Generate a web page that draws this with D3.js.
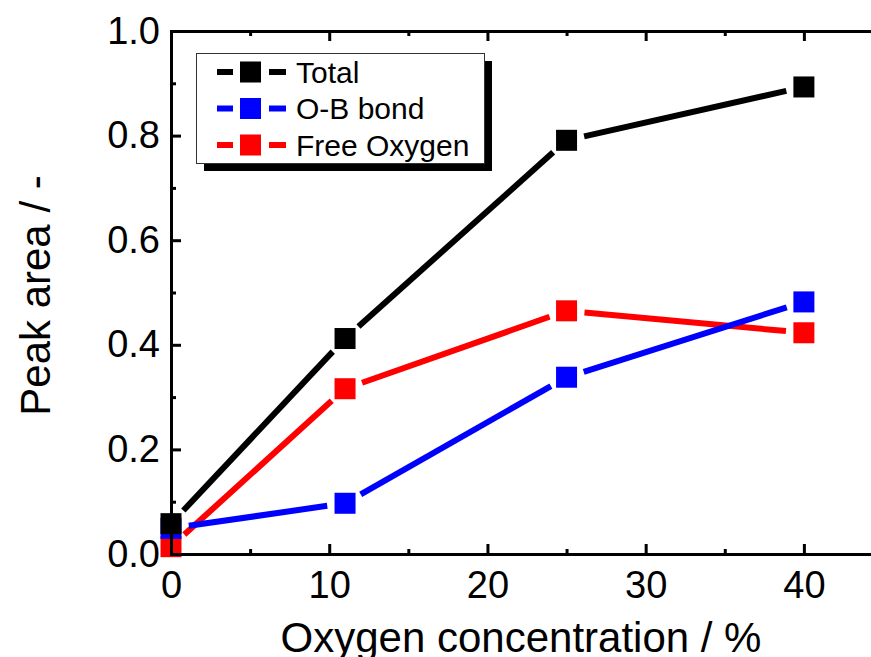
<!DOCTYPE html>
<html>
<head>
<meta charset="utf-8">
<script src="https://cdn.jsdelivr.net/npm/d3@7"></script>
<style>
  body { margin: 0; background: #fff; }
  svg { display: block; font-family: "Liberation Sans", Arial, sans-serif; }
</style>
</head>
<body>
<svg id="graph"></svg>
<script>
// values
let oxygen = [0, 11, 25, 40]
let total = [0.058, 0.412, 0.791, 0.893]
let obBond = [0.049, 0.097, 0.338, 0.482]
let freeOxygen = [0.014, 0.316, 0.465, 0.423]

let xTicks = [0, 10, 20, 30, 40]
let xMinor = [5, 15, 25, 35, 45]
let yTicks = [0, 0.2, 0.4, 0.6, 0.8, 1.0]
let yMinor = [0.1, 0.3, 0.5, 0.7, 0.9]

let seriesNames = ['Total', 'O-B bond', 'Free Oxygen']
let seriesColors = ['#000000', '#0000ff', '#ff0000']

let width = 871
let height = 657
// plot box (window.top is taken, so no plain "top")
let plotLeft = 171, plotRight = 883, plotTop = 31, plotBottom = 554

let svg = d3.select('#graph').attr('width', width).attr('height', height)

let xScale = d3.scaleLinear().domain([0, 45]).range([plotLeft, plotRight])
let yScale = d3.scaleLinear().domain([0, 1]).range([plotBottom, plotTop])

const series = seriesNames.map((name, i) => ({
    name: name,
    color: seriesColors[i],
    values: [total, obBond, freeOxygen][i]
}))

// lines stop short of the markers, like Origin does
const gap = 18
const drawLines = (s) => {
    let pts = oxygen.map((x, j) => [xScale(x), yScale(s.values[j])])
    let segs = d3.pairs(pts).map(([a, b]) => {
        let dx = b[0] - a[0], dy = b[1] - a[1]
        let len = Math.hypot(dx, dy)
        let ux = dx / len, uy = dy / len
        return [a[0] + ux * gap, a[1] + uy * gap, b[0] - ux * gap, b[1] - uy * gap]
    })
    svg.append('g').selectAll('line')
        .data(segs)
        .enter()
        .append('line')
        .attr('x1', d => d[0]).attr('y1', d => d[1])
        .attr('x2', d => d[2]).attr('y2', d => d[3])
        .attr('stroke', s.color)
        .attr('stroke-width', 6)
}

const markerSize = 21
const drawMarkers = (s) => {
    svg.append('g').selectAll('rect')
        .data(oxygen)
        .enter()
        .append('rect')
        .attr('x', (d, j) => xScale(d) - markerSize / 2)
        .attr('y', (d, j) => yScale(s.values[j]) - markerSize / 2)
        .attr('width', markerSize)
        .attr('height', markerSize)
        .attr('fill', s.color)
}

// line order: Total, Free Oxygen, O-B bond (blue crosses over red)
drawLines(series[0])
drawLines(series[2])
drawLines(series[1])
// markers: red under blue under black
drawMarkers(series[2])
drawMarkers(series[1])
drawMarkers(series[0])

// axes
const styleAxis = (g, fontSize) => {
    g.select('.domain').attr('stroke-width', 3).attr('stroke-linecap', 'square')
    g.selectAll('.tick line').attr('stroke-width', 3)
    g.selectAll('.tick text').attr('font-size', fontSize).attr('fill', '#000')
        .attr('font-family', '"Liberation Sans", Arial, sans-serif')
}

let xAxis = d3.axisBottom(xScale).tickValues(xTicks).tickSizeInner(-10).tickSizeOuter(0)
    .tickPadding(17).tickFormat(d3.format('d'))
svg.append('g').attr('transform', `translate(0, ${plotBottom})`).call(xAxis).call(g => styleAxis(g, 38))
svg.append('g').attr('transform', `translate(0, ${plotBottom})`)
    .call(d3.axisBottom(xScale).tickValues(xMinor).tickSizeInner(-5).tickSizeOuter(0).tickFormat(''))
    .call(g => styleAxis(g, 38))

let topAxis = d3.axisTop(xScale).tickValues(xTicks).tickSizeInner(-10).tickSizeOuter(0).tickFormat('')
svg.append('g').attr('transform', `translate(0, ${plotTop})`).call(topAxis).call(g => styleAxis(g, 38))
svg.append('g').attr('transform', `translate(0, ${plotTop})`)
    .call(d3.axisTop(xScale).tickValues(xMinor).tickSizeInner(-5).tickSizeOuter(0).tickFormat(''))
    .call(g => styleAxis(g, 38))

let yAxis = d3.axisLeft(yScale).tickValues(yTicks).tickSizeInner(-10).tickSizeOuter(0)
    .tickPadding(11).tickFormat(d3.format('.1f'))
svg.append('g').attr('transform', `translate(${plotLeft}, 0)`).call(yAxis).call(g => styleAxis(g, 38))
svg.append('g').attr('transform', `translate(${plotLeft}, 0)`)
    .call(d3.axisLeft(yScale).tickValues(yMinor).tickSizeInner(-5).tickSizeOuter(0).tickFormat(''))
    .call(g => styleAxis(g, 38))

// axis titles (the x title runs off the bottom edge in the original too)
svg.append('text')
    .attr('x', (plotLeft + plotRight) / 2 - 6)
    .attr('y', 652)
    .attr('text-anchor', 'middle')
    .attr('font-size', 42)
    .text('Oxygen concentration / %')

svg.append('text')
    .attr('transform', `translate(50, ${(plotTop + plotBottom) / 2 + 3}) rotate(-90)`)
    .attr('text-anchor', 'middle')
    .attr('font-size', 42)
    .text('Peak area / -')

// legend
let legend = svg.append('g')
legend.append('rect')
    .attr('x', 204).attr('y', 61).attr('width', 288).attr('height', 110)
    .attr('fill', '#000')
legend.append('rect')
    .attr('x', 196.5).attr('y', 53.5).attr('width', 288).attr('height', 110)
    .attr('fill', '#fff').attr('stroke', '#333').attr('stroke-width', 1)

let rows = legend.selectAll('g.row')
    .data(series)
    .enter()
    .append('g')
    .attr('class', 'row')
    .attr('transform', (d, i) => `translate(0, ${72 + i * 36.5})`)

rows.append('line').attr('x1', 217).attr('x2', 233).attr('stroke', d => d.color).attr('stroke-width', 6)
rows.append('line').attr('x1', 269).attr('x2', 286).attr('stroke', d => d.color).attr('stroke-width', 6)
rows.append('rect')
    .attr('x', 240).attr('y', -markerSize / 2)
    .attr('width', markerSize).attr('height', markerSize)
    .attr('fill', d => d.color)
rows.append('text')
    .attr('x', 296)
    .attr('dy', '0.36em')
    .attr('font-size', 30)
    .text(d => d.name)
</script>
</body>
</html>
